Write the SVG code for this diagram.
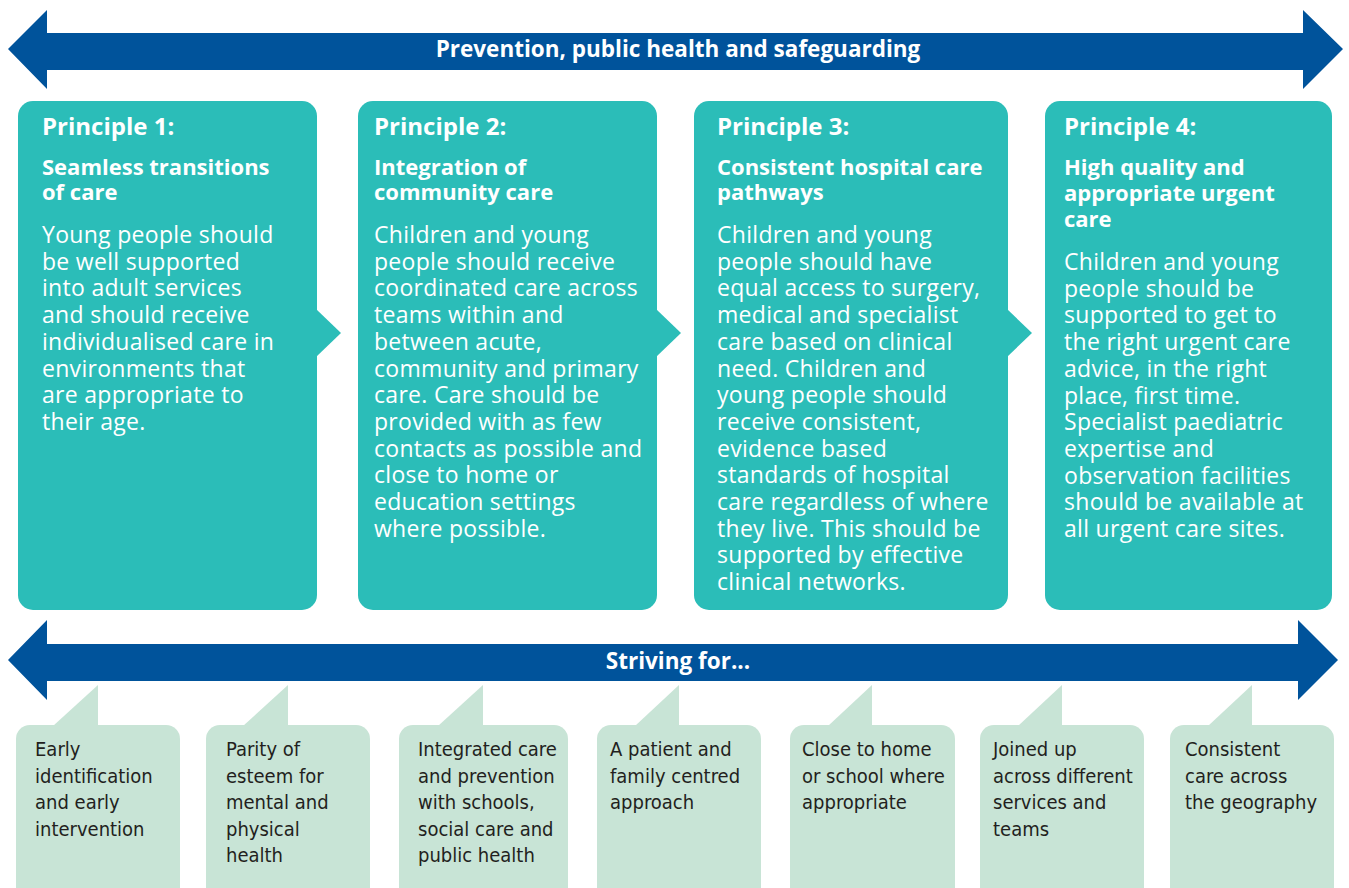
<svg xmlns="http://www.w3.org/2000/svg" width="1349" height="888" viewBox="0 0 1349 888">
<style>
.band{fill:#00539b}
.pbox{fill:#2bbdb8}
.sbox{fill:#c8e4d6}
.bt{font-family:"Open Sans","Noto Sans",sans-serif;font-weight:bold;font-size:22.5px;fill:#fff;text-anchor:middle}
.pn{font-family:"Open Sans","Noto Sans",sans-serif;font-weight:bold;font-size:24px;fill:#fff}
.ph{font-family:"Open Sans","Noto Sans",sans-serif;font-weight:bold;font-size:22px;fill:#fff}
.pb{font-family:"Open Sans","Noto Sans",sans-serif;font-size:23px;letter-spacing:0.3px;fill:#fff}
.st{font-family:"DejaVu Sans Condensed","DejaVu Sans",sans-serif;font-stretch:condensed;font-size:20px;fill:#231f20}
</style>
<rect width="1349" height="888" fill="#fff"/>
<g id="bands">
<polygon class="band" points="8,49 47,10 47,33 1303,33 1303,10 1343,49 1303,89 1303,70 47,70 47,89"/>
<text class="bt" x="678" y="57">Prevention, public health and safeguarding</text>
<polygon class="band" points="8,660 47,620 47,644 1298,644 1298,620 1338,660 1298,700 1298,681 47,681 47,700"/>
<text class="bt" x="678" y="669">Striving for...</text>
</g>
<g id="connectors">
<polygon class="pbox" points="316,309 341,333 316,357"/>
<polygon class="pbox" points="656,309 681,333 656,357"/>
<polygon class="pbox" points="1007,309 1032,333 1007,357"/>
</g>
<g id="p1">
<rect class="pbox" x="18" y="101" width="299" height="509" rx="15"/>
<text class="pn" x="42" y="135">Principle 1:</text>
<text class="ph" x="42" y="175">Seamless transitions<tspan x="42" y="200">of care</tspan></text>
<text class="pb" x="42" y="243">Young people should<tspan x="42" dy="26.7">be well supported</tspan><tspan x="42" dy="26.7">into adult services</tspan><tspan x="42" dy="26.7">and should receive</tspan><tspan x="42" dy="26.7">individualised care in</tspan><tspan x="42" dy="26.7">environments that</tspan><tspan x="42" dy="26.7">are appropriate to</tspan><tspan x="42" dy="26.7">their age.</tspan></text>
</g>
<g id="p2">
<rect class="pbox" x="358" y="101" width="299" height="509" rx="15"/>
<text class="pn" x="374" y="135">Principle 2:</text>
<text class="ph" x="374" y="175">Integration of<tspan x="374" y="200">community care</tspan></text>
<text class="pb" x="374" y="243">Children and young<tspan x="374" dy="26.7">people should receive</tspan><tspan x="374" dy="26.7">coordinated care across</tspan><tspan x="374" dy="26.7">teams within and</tspan><tspan x="374" dy="26.7">between acute,</tspan><tspan x="374" dy="26.7">community and primary</tspan><tspan x="374" dy="26.7">care. Care should be</tspan><tspan x="374" dy="26.7">provided with as few</tspan><tspan x="374" dy="26.7">contacts as possible and</tspan><tspan x="374" dy="26.7">close to home or</tspan><tspan x="374" dy="26.7">education settings</tspan><tspan x="374" dy="26.7">where possible.</tspan></text>
</g>
<g id="p3">
<rect class="pbox" x="694" y="101" width="314" height="509" rx="15"/>
<text class="pn" x="717" y="135">Principle 3:</text>
<text class="ph" x="717" y="175">Consistent hospital care<tspan x="717" y="200">pathways</tspan></text>
<text class="pb" x="717" y="243">Children and young<tspan x="717" dy="26.7">people should have</tspan><tspan x="717" dy="26.7">equal access to surgery,</tspan><tspan x="717" dy="26.7">medical and specialist</tspan><tspan x="717" dy="26.7">care based on clinical</tspan><tspan x="717" dy="26.7">need. Children and</tspan><tspan x="717" dy="26.7">young people should</tspan><tspan x="717" dy="26.7">receive consistent,</tspan><tspan x="717" dy="26.7">evidence based</tspan><tspan x="717" dy="26.7">standards of hospital</tspan><tspan x="717" dy="26.7">care regardless of where</tspan><tspan x="717" dy="26.7">they live. This should be</tspan><tspan x="717" dy="26.7">supported by effective</tspan><tspan x="717" dy="26.7">clinical networks.</tspan></text>
</g>
<g id="p4">
<rect class="pbox" x="1045" y="101" width="287" height="509" rx="15"/>
<text class="pn" x="1064" y="135">Principle 4:</text>
<text class="ph" x="1064" y="175">High quality and<tspan x="1064" y="201">appropriate urgent</tspan><tspan x="1064" y="227">care</tspan></text>
<text class="pb" x="1064" y="270">Children and young<tspan x="1064" dy="26.7">people should be</tspan><tspan x="1064" dy="26.7">supported to get to</tspan><tspan x="1064" dy="26.7">the right urgent care</tspan><tspan x="1064" dy="26.7">advice, in the right</tspan><tspan x="1064" dy="26.7">place, first time.</tspan><tspan x="1064" dy="26.7">Specialist paediatric</tspan><tspan x="1064" dy="26.7">expertise and</tspan><tspan x="1064" dy="26.7">observation facilities</tspan><tspan x="1064" dy="26.7">should be available at</tspan><tspan x="1064" dy="26.7">all urgent care sites.</tspan></text>
</g>
<g id="s1">
<rect class="sbox" x="16" y="725" width="164" height="180" rx="14"/>
<polygon class="sbox" points="53,726 98,685 98,726"/>
<text class="st" x="35" y="756">Early<tspan x="35" dy="26.5">identification</tspan><tspan x="35" dy="26.5">and early</tspan><tspan x="35" dy="26.5">intervention</tspan></text>
</g>
<g id="s2">
<rect class="sbox" x="206" y="725" width="164" height="180" rx="14"/>
<polygon class="sbox" points="243,726 288,685 288,726"/>
<text class="st" x="226" y="756">Parity of<tspan x="226" dy="26.5">esteem for</tspan><tspan x="226" dy="26.5">mental and</tspan><tspan x="226" dy="26.5">physical</tspan><tspan x="226" dy="26.5">health</tspan></text>
</g>
<g id="s3">
<rect class="sbox" x="399" y="725" width="169" height="180" rx="14"/>
<polygon class="sbox" points="438,726 483,685 483,726"/>
<text class="st" x="418" y="756">Integrated care<tspan x="418" dy="26.5">and prevention</tspan><tspan x="418" dy="26.5">with schools,</tspan><tspan x="418" dy="26.5">social care and</tspan><tspan x="418" dy="26.5">public health</tspan></text>
</g>
<g id="s4">
<rect class="sbox" x="597" y="725" width="164" height="180" rx="14"/>
<polygon class="sbox" points="635,726 679,685 679,726"/>
<text class="st" x="610" y="756">A patient and<tspan x="610" dy="26.5">family centred</tspan><tspan x="610" dy="26.5">approach</tspan></text>
</g>
<g id="s5">
<rect class="sbox" x="790" y="725" width="165" height="180" rx="14"/>
<polygon class="sbox" points="828,726 872,685 872,726"/>
<text class="st" x="802" y="756">Close to home<tspan x="802" dy="26.5">or school where</tspan><tspan x="802" dy="26.5">appropriate</tspan></text>
</g>
<g id="s6">
<rect class="sbox" x="980" y="725" width="164" height="180" rx="14"/>
<polygon class="sbox" points="1018,726 1062,685 1062,726"/>
<text class="st" x="993" y="756">Joined up<tspan x="993" dy="26.5">across different</tspan><tspan x="993" dy="26.5">services and</tspan><tspan x="993" dy="26.5">teams</tspan></text>
</g>
<g id="s7">
<rect class="sbox" x="1170" y="725" width="164" height="180" rx="14"/>
<polygon class="sbox" points="1208,726 1252,685 1252,726"/>
<text class="st" x="1185" y="756">Consistent<tspan x="1185" dy="26.5">care across</tspan><tspan x="1185" dy="26.5">the geography</tspan></text>
</g>
</svg>
